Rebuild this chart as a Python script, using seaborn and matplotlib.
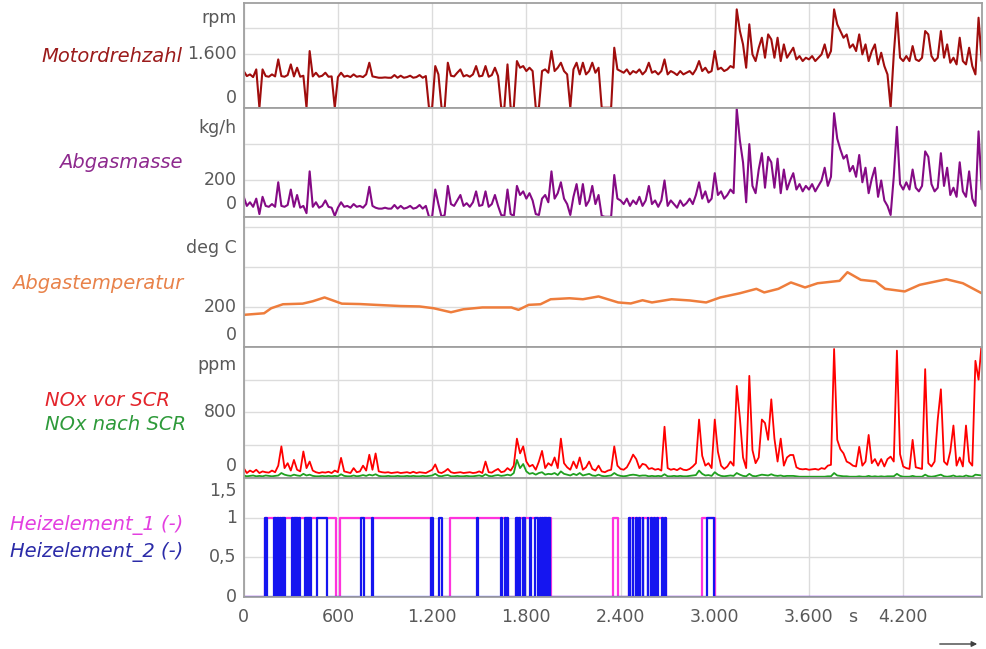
import numpy as np
import pandas as pd
import matplotlib
matplotlib.use("Agg")
import matplotlib.pyplot as plt
import seaborn as sns

DT = 20

rpm = [1100, 950, 1000, 920, 1150, 0, 1150, 950, 930, 1000,
       940, 1450, 950, 930, 980, 1300, 940, 1200, 930, 960,
       0, 1700, 940, 1050, 930, 960, 1050, 930, 940, 0,
       920, 1050, 930, 960, 920, 1000, 930, 950, 920, 1000,
       1350, 940, 920, 900, 900, 910, 900, 900, 980, 900,
       960, 900, 920, 960, 900, 920, 980, 900, 950, 0,
       0, 1250, 1000, 0, 0, 1350, 960, 940, 1050, 1150,
       940, 980, 930, 1000, 1250, 940, 960, 1250, 930, 980,
       1200, 950, 0, 0, 1300, 0, 0, 1400, 1200, 1250,
       1100, 1200, 1100, 0, 0, 1100, 1150, 1050, 1700, 1100,
       1200, 1350, 1100, 1000, 0, 1150, 1350, 1000, 1350, 1000,
       1100, 1350, 1050, 1200, 0, 0, 0, 0, 1800, 1150,
       1100, 1050, 1150, 1000, 1100, 1050, 1150, 1000, 1100, 1350,
       1050, 1100, 1000, 1100, 1450, 1000, 1100, 1050, 980, 1100,
       1000, 1050, 1100, 1000, 1150, 1400, 1100, 1200, 1050, 1100,
       1700, 1150, 1200, 1100, 1150, 1250, 1200, 2950, 2300, 1900,
       1200, 2500, 1600, 1400, 1800, 2100, 1500, 2200, 2050, 1500,
       2100, 1400, 1900, 1500, 1650, 1800, 1450, 1550, 1400, 1500,
       1450, 1550, 1400, 1500, 1600, 1900, 1500, 1700, 2950, 2500,
       2300, 2100, 2200, 1800, 1900, 1700, 2200, 1600, 1900, 1400,
       1700, 1900, 1300, 1650, 1250, 1000, 0, 1600, 2850, 1500,
       1400, 1550, 1400, 1850, 1450, 1400, 1500, 2300, 2200, 1550,
       1400, 1500, 2300, 1500, 1900, 1350, 1500, 1300, 2100, 1400,
       1300, 1800, 1250, 1000, 2700, 1400]

mass = [110, 60, 80, 55, 100, 15, 110, 60, 55, 70,
        55, 190, 60, 55, 65, 150, 55, 120, 50, 60,
        20, 250, 55, 80, 50, 60, 90, 55, 50, 5,
        50, 80, 55, 60, 50, 70, 55, 60, 50, 70,
        165, 60, 50, 45, 45, 50, 45, 45, 65, 45,
        60, 45, 50, 60, 45, 50, 65, 45, 60, 0,
        0, 150, 70, 0, 10, 170, 70, 60, 90, 120,
        60, 75, 55, 80, 140, 60, 65, 140, 55, 70,
        120, 60, 10, 5, 150, 15, 5, 170, 120, 140,
        100, 130, 90, 15, 10, 100, 120, 80, 250, 100,
        130, 190, 100, 70, 10, 110, 180, 70, 180, 60,
        90, 170, 70, 120, 5, 0, 0, 0, 230, 100,
        90, 70, 100, 60, 90, 70, 110, 60, 90, 170,
        70, 90, 55, 90, 200, 60, 90, 70, 50, 90,
        60, 75, 100, 70, 120, 190, 100, 140, 80, 100,
        240, 120, 140, 100, 120, 150, 130, 595, 420, 300,
        80, 400, 170, 130, 260, 350, 160, 330, 300, 160,
        320, 130, 260, 150, 200, 240, 150, 180, 140, 170,
        150, 180, 140, 170, 200, 270, 170, 220, 570, 430,
        370, 320, 340, 250, 280, 220, 340, 190, 270, 130,
        210, 270, 110, 200, 90, 60, 10, 220, 495, 180,
        150, 190, 150, 260, 160, 140, 170, 360, 330, 180,
        140, 160, 350, 170, 270, 120, 160, 110, 300, 140,
        110, 250, 100, 60, 470, 150]

temp_t = [0, 130, 175, 250, 375, 440, 515, 625, 740, 840, 1000, 1120, 1210,
          1320, 1400, 1520, 1705, 1750, 1815, 1890, 1955, 2075, 2160, 2260,
          2385, 2465, 2540, 2600, 2725, 2840, 2945, 3035, 3160, 3265, 3315,
          3405, 3485, 3575, 3655, 3795, 3845, 3930, 4025, 4085, 4210, 4305,
          4475, 4580, 4700]
temp_v = [160, 168, 193, 213, 216, 228, 247, 216, 214, 210, 204, 202, 193,
          173, 188, 197, 197, 185, 210, 213, 238, 243, 238, 252,
          222, 217, 233, 222, 238, 232, 222, 247, 268, 290, 272,
          290, 322, 297, 318, 330, 373, 335, 327, 290, 277, 310,
          338, 318, 268]

nox_vor = [120, 60, 90, 70, 100, 60, 80, 70, 65, 90,
           70, 150, 385, 120, 180, 90, 220, 100, 80, 323,
           120, 200, 90, 70, 60, 70, 65, 75, 60, 90,
           70, 245, 80, 70, 60, 120, 70, 80, 150, 90,
           283, 100, 299, 80, 70, 65, 70, 60, 65, 70,
           60, 65, 70, 60, 75, 60, 70, 65, 60, 80,
           100, 165, 70, 60, 80, 110, 70, 60, 65, 70,
           60, 65, 70, 60, 65, 80, 60, 200, 70, 65,
           90, 110, 70, 80, 120, 90, 150, 480, 300, 385,
           200, 140, 160, 100, 200, 330, 120, 180, 150, 250,
           120, 480, 180, 130, 100, 200, 120, 250, 100, 130,
           200, 110, 90, 150, 80, 70, 90, 100, 385, 150,
           110, 100, 130, 200, 285, 230, 120, 172, 160, 110,
           120, 100, 110, 90, 625, 120, 100, 110, 95, 120,
           100, 95, 110, 140, 180, 713, 270, 150, 180, 120,
           713, 320, 150, 110, 140, 200, 150, 1123, 730, 250,
           120, 1246, 340, 180, 250, 713, 670, 465, 960, 480,
           200, 480, 150, 250, 280, 280, 130, 110, 105, 110,
           100, 105, 110, 100, 120, 110, 150, 160, 1574, 465,
           350, 300, 200, 180, 150, 140, 380, 150, 200, 525,
           180, 230, 150, 230, 140, 230, 260, 200, 1554, 290,
           140, 120, 110, 465, 130, 120, 110, 1328, 180, 140,
           200, 713, 1082, 200, 160, 324, 640, 150, 250, 140,
           640, 200, 150, 1430, 1200, 1650]

nox_nach = [30, 20, 25, 30, 20, 25, 20, 30, 25, 20,
            25, 30, 60, 40, 30, 25, 40, 30, 25, 50,
            30, 40, 25, 20, 20, 25, 20, 25, 20, 25,
            20, 45, 25, 20, 20, 30, 20, 25, 35, 25,
            40, 30, 45, 25, 20, 20, 25, 20, 20, 25,
            20, 20, 25, 20, 25, 20, 20, 25, 20, 25,
            30, 50, 25, 20, 30, 35, 20, 20, 25, 20,
            20, 25, 20, 20, 25, 30, 20, 45, 25, 20,
            30, 35, 25, 30, 40, 30, 60, 220, 120, 170,
            80, 50, 60, 40, 60, 70, 40, 50, 45, 60,
            35, 80, 50, 40, 30, 50, 35, 60, 30, 40,
            50, 30, 25, 40, 25, 20, 25, 30, 60, 35,
            25, 20, 25, 35, 40, 35, 25, 30, 30, 20,
            25, 20, 25, 20, 45, 20, 20, 25, 20, 25,
            20, 20, 25, 30, 35, 90, 50, 30, 35, 25,
            70, 40, 25, 20, 25, 30, 25, 60, 40, 25,
            20, 50, 25, 20, 30, 40, 35, 30, 45, 30,
            25, 30, 20, 25, 25, 25, 20, 15, 15, 15,
            15, 15, 15, 15, 15, 15, 20, 20, 60, 30,
            25, 20, 20, 15, 15, 15, 20, 15, 15, 25,
            15, 20, 15, 20, 15, 20, 20, 20, 50, 25,
            15, 15, 15, 25, 15, 15, 15, 40, 20, 15,
            20, 30, 40, 20, 15, 20, 30, 15, 20, 15,
            30, 20, 15, 40, 35, 30]

# switch-on periods (start s, end s)
he1_on = [(135, 587), (613, 1196), (1316, 1683), (1736, 1959),
          (2355, 2383), (2453, 2690), (2917, 3002)]
he2_on = [(135, 150), (195, 205), (212, 222), (230, 240), (246, 256),
          (258, 263), (305, 315), (320, 330), (335, 345), (350, 358),
          (390, 400), (405, 415), (418, 426), (468, 528), (750, 765),
          (814, 825), (1190, 1206), (1245, 1266), (1484, 1490),
          (1641, 1648), (1662, 1668), (1680, 1686), (1736, 1745),
          (1752, 1758), (1779, 1789), (1821, 1832), (1853, 1874),
          (1885, 1892), (1898, 1905), (1910, 1918), (1922, 1930),
          (1935, 1948), (2456, 2461), (2477, 2482), (2498, 2503),
          (2519, 2524), (2540, 2545), (2572, 2577), (2593, 2598),
          (2614, 2619), (2635, 2640), (2667, 2672), (2684, 2690),
          (2950, 2995)]

T_END = 4700
x_ticks = [0, 600, 1200, 1800, 2400, 3000, 3600, 4200]
x_labels = ['0', '600', '1.200', '1.800', '2.400', '3.000', '3.600', '4.200']

GREY = '#595959'
FS = 12.5


def steps(intervals):
    t, v = [0], [0]
    for a, b in intervals:
        t += [a, a, b, b]
        v += [0, 1, 1, 0]
    t.append(T_END)
    v.append(0)
    return pd.DataFrame({'t': t, 'v': v})


def series(vals):
    return pd.DataFrame({'t': np.arange(len(vals)) * DT, 'v': vals})


sns.set_theme(style='white')
plt.rcParams['font.family'] = ['DejaVu Sans']

W, H = 987, 649
fig, axes = plt.subplots(5, 1, figsize=(W / 100, H / 100), dpi=100, sharex=True,
                         gridspec_kw=dict(height_ratios=[105, 109, 130, 131, 119], hspace=0))
fig.subplots_adjust(left=243.7 / W, right=981.7 / W, top=1 - 2.7 / H, bottom=1 - 597 / H)

ax1, ax2, ax3, ax4, ax5 = axes

kw = dict(x='t', y='v', estimator=None, sort=False)
sns.lineplot(data=series(rpm), ax=ax1, color='#A00D0D', lw=1.5, **kw)
sns.lineplot(data=series(mass), ax=ax2, color='#850A85', lw=1.5, **kw)
sns.lineplot(data=pd.DataFrame({'t': temp_t, 'v': temp_v}), ax=ax3,
             color='#EE7D3C', lw=1.8, **kw)
sns.lineplot(data=series(nox_vor), ax=ax4, color='#FF0000', lw=1.3, **kw)
sns.lineplot(data=series(nox_nach), ax=ax4, color='#1FA01F', lw=1.3, **kw)
sns.lineplot(data=steps(he1_on), ax=ax5, color='#FF33DD', lw=1.6, **kw)
sns.lineplot(data=steps(he2_on), ax=ax5, color='#1515F0', lw=1.6, **kw)

ylims = [3150, 600, 650, 1600, 1.5]
ygrid = [[0, 800, 1600, 2400], [0, 200, 400], [0, 200, 400, 600],
         [0, 400, 800, 1200], [0, 0.5, 1, 1.5]]
for ax, top, gy in zip(axes, ylims, ygrid):
    ax.set_xlim(0, T_END)
    ax.set_ylim(0, top)
    ax.set_yticks(gy)
    ax.set_yticklabels([])
    ax.set_xticks(x_ticks)
    ax.set_xlabel('')
    ax.set_ylabel('')
    ax.grid(True, color='#dcdcdc', lw=1)
    ax.tick_params(axis='both', length=0)
    for s in ax.spines.values():
        s.set_color('#a0a0a0')
        s.set_linewidth(1.3)
    ax.set_axisbelow(True)

ax5.set_xticklabels(x_labels)
ax5.tick_params(axis='x', labelsize=FS, labelcolor=GREY, pad=8)


def ylab(ax, y, s, dy=0):
    ax.annotate(s, xy=(0, y), xycoords=('axes fraction', 'data'), xytext=(-7, dy),
                textcoords='offset pixels', ha='right', va='center', color=GREY,
                fontsize=FS, annotation_clip=False)


def unit(ax, yf, s):
    ax.annotate(s, xy=(0, yf), xycoords='axes fraction', xytext=(-7, 0),
                textcoords='offset pixels', ha='right', va='center', color=GREY,
                fontsize=FS, annotation_clip=False)


unit(ax1, 0.855, 'rpm')
ylab(ax1, 1600, '1.600')
ylab(ax1, 0, '0', 10)
unit(ax2, 0.817, 'kg/h')
ylab(ax2, 200, '200')
ylab(ax2, 0, '0', 13)
unit(ax3, 0.76, 'deg C')
ylab(ax3, 200, '200')
ylab(ax3, 0, '0', 12)
unit(ax4, 0.863, 'ppm')
ylab(ax4, 800, '800')
ylab(ax4, 0, '0', 12)
ylab(ax5, 1.5, '1,5', -13)
ylab(ax5, 1, '1')
ylab(ax5, 0.5, '0,5')
ylab(ax5, 0, '0')

ax5.annotate('s', xy=(3876, 0), xycoords=('data', 'axes fraction'), xytext=(0, -20),
             textcoords='offset pixels', ha='center', va='center', color=GREY,
             fontsize=FS, annotation_clip=False)
ax5.annotate('', xy=(980, 5), xytext=(937, 5), xycoords='figure pixels',
             arrowprops=dict(arrowstyle='-|>', color='#404040', lw=1, mutation_scale=8))

# channel names on the left
names = [('Motordrehzahl', 182, 57, 'right', '#9B1B1B'),
         ('Abgasmasse', 183, 163, 'right', '#8E2A8E'),
         ('Abgastemperatur', 183, 283, 'right', '#E8824A'),
         ('NOx vor SCR', 45, 400, 'left', '#E3242B'),
         ('NOx nach SCR', 45, 424, 'left', '#2E9A3A'),
         ('Heizelement_1 (-)', 183, 525, 'right', '#E33FE0'),
         ('Heizelement_2 (-)', 183, 552, 'right', '#2B2BA8')]
for txt, x, y, ha, c in names:
    fig.text(x / W, 1 - y / H, txt, ha=ha, va='center', color=c, fontsize=14, style='italic')

plt.savefig('out.png', dpi=100)
